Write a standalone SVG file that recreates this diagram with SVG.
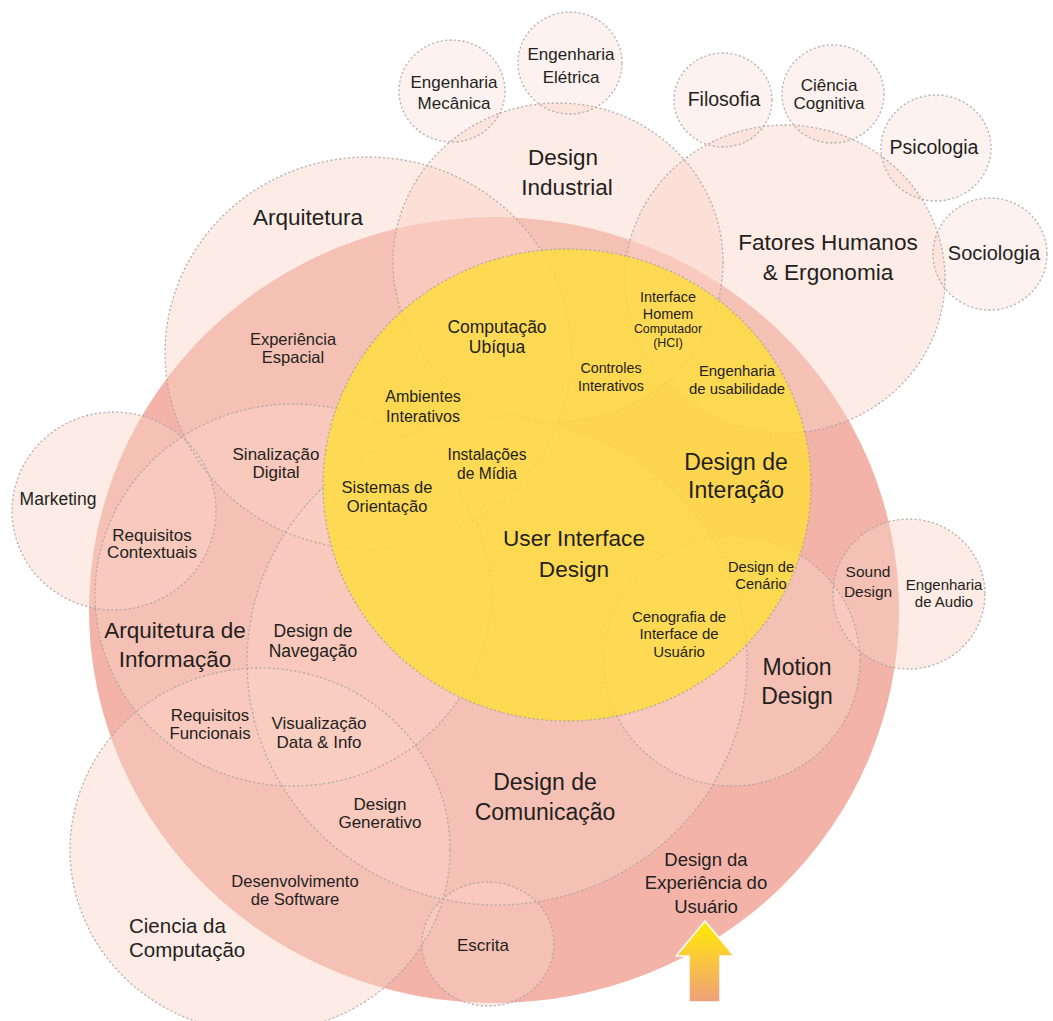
<svg xmlns="http://www.w3.org/2000/svg" xmlns:xlink="http://www.w3.org/1999/xlink" width="1053" height="1021" viewBox="0 0 1053 1021">
  <style>
    .pale { fill: #FAD2C6; fill-opacity: 0.45; }
    .faint { fill: #F8D8CE; fill-opacity: 0.32; }
    .dash { fill: none; stroke: #A9A6A6; stroke-width: 1.3; stroke-dasharray: 2.2 2.2; stroke-opacity: 0.85; }
    text { font-family: "Liberation Sans", Arial, sans-serif; fill: #231F20; text-anchor: middle; }
    text.left { text-anchor: start; }
  </style>
  <defs>
    <!-- discipline areas (slightly wider than tall) -->
    <ellipse id="e-ux" cx="494" cy="610" rx="405" ry="393"/>
    <ellipse id="e-industrial" cx="558" cy="262" rx="165" ry="159"/>
    <ellipse id="e-fatores" cx="785" cy="279" rx="160" ry="154"/>
    <ellipse id="e-arquitetura" cx="368" cy="353" rx="203" ry="196"/>
    <ellipse id="e-marketing" cx="114" cy="511" rx="102" ry="99"/>
    <ellipse id="e-arqinfo" cx="293" cy="595" rx="198" ry="191"/>
    <ellipse id="e-comunicacao" cx="497" cy="662" rx="250" ry="243"/>
    <ellipse id="e-ciencia" cx="260" cy="850" rx="190" ry="182"/>
    <ellipse id="e-motion" cx="732" cy="661" rx="128" ry="125"/>
    <ellipse id="e-sound" cx="909" cy="594" rx="76" ry="75"/>
    <ellipse id="e-escrita" cx="488" cy="944" rx="66" ry="62"/>
    <ellipse id="e-interacao" cx="567" cy="485" rx="244" ry="236"/>
    <ellipse id="e-mecanica" cx="452" cy="91" rx="53" ry="51"/>
    <ellipse id="e-eletrica" cx="570" cy="63" rx="52" ry="51"/>
    <ellipse id="e-filosofia" cx="723" cy="100" rx="49" ry="47"/>
    <ellipse id="e-cognitiva" cx="833" cy="94" rx="51" ry="49"/>
    <ellipse id="e-psicologia" cx="936" cy="148" rx="55" ry="53"/>
    <ellipse id="e-sociologia" cx="990" cy="254" rx="57" ry="56"/>
    <linearGradient id="arrow-grad" x1="0" y1="0" x2="0" y2="1">
      <stop offset="0" stop-color="#FFEC00"/>
      <stop offset="0.45" stop-color="#FBC93A"/>
      <stop offset="1" stop-color="#EE9F7C"/>
    </linearGradient>
  </defs>

  <rect width="1053" height="1021" fill="#FFFFFF"/>

  <!-- base: user experience field -->
  <use xlink:href="#e-ux" fill="#F3B3A8"/>

  <!-- translucent fills of the surrounding disciplines -->
  <g id="area-fills">
    <use xlink:href="#e-mecanica" class="faint"/>
    <use xlink:href="#e-eletrica" class="faint"/>
    <use xlink:href="#e-filosofia" class="faint"/>
    <use xlink:href="#e-cognitiva" class="faint"/>
    <use xlink:href="#e-psicologia" class="faint"/>
    <use xlink:href="#e-sociologia" class="faint"/>
    <use xlink:href="#e-industrial" class="pale"/>
    <use xlink:href="#e-fatores" class="pale"/>
    <use xlink:href="#e-arquitetura" class="pale"/>
    <use xlink:href="#e-marketing" class="pale"/>
    <use xlink:href="#e-arqinfo" class="pale"/>
    <use xlink:href="#e-comunicacao" class="pale"/>
    <use xlink:href="#e-ciencia" class="pale"/>
    <use xlink:href="#e-motion" class="pale"/>
    <use xlink:href="#e-sound" class="pale"/>
    <use xlink:href="#e-escrita" class="pale"/>
  </g>

  <!-- dotted outlines -->
  <g id="area-outlines">
    <use xlink:href="#e-mecanica" class="dash" stroke-opacity="0.35"/>
    <use xlink:href="#e-eletrica" class="dash" stroke-opacity="0.35"/>
    <use xlink:href="#e-filosofia" class="dash" stroke-opacity="0.35"/>
    <use xlink:href="#e-cognitiva" class="dash" stroke-opacity="0.35"/>
    <use xlink:href="#e-psicologia" class="dash" stroke-opacity="0.35"/>
    <use xlink:href="#e-sociologia" class="dash" stroke-opacity="0.35"/>
    <use xlink:href="#e-industrial" class="dash"/>
    <use xlink:href="#e-fatores" class="dash"/>
    <use xlink:href="#e-arquitetura" class="dash"/>
    <use xlink:href="#e-marketing" class="dash"/>
    <use xlink:href="#e-arqinfo" class="dash"/>
    <use xlink:href="#e-comunicacao" class="dash"/>
    <use xlink:href="#e-ciencia" class="dash"/>
    <use xlink:href="#e-motion" class="dash"/>
    <use xlink:href="#e-sound" class="dash"/>
    <use xlink:href="#e-escrita" class="dash"/>
  </g>

  <!-- interaction design core -->
  <g id="interacao-area">
    <use xlink:href="#e-interacao" fill="#FFDD38" fill-opacity="0.8"/>
    <use xlink:href="#e-interacao" class="dash"/>
  </g>

  <!-- arrow pointing at the UX label -->
  <g id="connectors">
    <path d="M705 921 L734 956 L720 956 L720 1002 L689 1002 L689 956 L676 956 Z" fill="url(#arrow-grad)" stroke="#FFFFFF" stroke-width="1.5" stroke-linejoin="round"/>
  </g>

  <!-- labels -->
  <g id="labels">
    <g id="node-eng-mecanica"><text font-size="17" x="454" y="88">Engenharia</text><text font-size="17" x="454" y="109">Mecânica</text></g>
    <g id="node-eng-eletrica"><text font-size="17" x="571" y="60">Engenharia</text><text font-size="17" x="571" y="83">Elétrica</text></g>
    <g id="node-filosofia"><text font-size="19.5" x="724" y="106">Filosofia</text></g>
    <g id="node-ciencia-cognitiva"><text font-size="17" x="829" y="91">Ciência</text><text font-size="17" x="829" y="109">Cognitiva</text></g>
    <g id="node-psicologia"><text font-size="19.5" x="934" y="154">Psicologia</text></g>
    <g id="node-sociologia"><text font-size="20" x="994" y="260">Sociologia</text></g>
    <g id="node-design-industrial"><text font-size="22.5" x="563" y="165">Design</text><text font-size="22.5" x="567" y="195">Industrial</text></g>
    <g id="node-fatores-humanos"><text font-size="22.6" x="828" y="250">Fatores Humanos</text><text font-size="22.6" x="828" y="280">&amp; Ergonomia</text></g>
    <g id="node-arquitetura"><text font-size="22.5" x="308" y="225">Arquitetura</text></g>
    <g id="node-experiencia-espacial"><text font-size="16.5" x="293" y="345">Experiência</text><text font-size="16.5" x="293" y="363">Espacial</text></g>
    <g id="node-computacao-ubiqua"><text font-size="17.5" x="497" y="333">Computação</text><text font-size="17.5" x="497" y="353">Ubíqua</text></g>
    <g id="node-ambientes-interativos"><text font-size="16" x="423" y="402">Ambientes</text><text font-size="16" x="423" y="422">Interativos</text></g>
    <g id="node-instalacoes-midia"><text font-size="15.6" x="487" y="460">Instalações</text><text font-size="15.6" x="487" y="479">de Mídia</text></g>
    <g id="node-sistemas-orientacao"><text font-size="16.5" x="387" y="493">Sistemas de</text><text font-size="16.5" x="387" y="512">Orientação</text></g>
    <g id="node-sinalizacao-digital"><text font-size="17" x="276" y="460">Sinalização</text><text font-size="17" x="276" y="478">Digital</text></g>
    <g id="node-marketing"><text font-size="17.5" x="58" y="505">Marketing</text></g>
    <g id="node-requisitos-contextuais"><text font-size="17" x="152" y="541">Requisitos</text><text font-size="17" x="152" y="558">Contextuais</text></g>
    <g id="node-arquitetura-informacao"><text font-size="22.5" x="175" y="638">Arquitetura de</text><text font-size="22.5" x="175" y="667">Informação</text></g>
    <g id="node-design-navegacao"><text font-size="17.5" x="313" y="637">Design de</text><text font-size="17.5" x="313" y="657">Navegação</text></g>
    <g id="node-requisitos-funcionais"><text font-size="16.8" x="210" y="721">Requisitos</text><text font-size="16.8" x="210" y="739">Funcionais</text></g>
    <g id="node-visualizacao"><text font-size="17" x="319" y="729">Visualização</text><text font-size="17" x="319" y="748">Data &amp; Info</text></g>
    <g id="node-design-generativo"><text font-size="17" x="380" y="810">Design</text><text font-size="17" x="380" y="828">Generativo</text></g>
    <g id="node-desenvolvimento-software"><text font-size="16.6" x="295" y="887">Desenvolvimento</text><text font-size="16.6" x="295" y="905">de Software</text></g>
    <g id="node-ciencia-computacao"><text class="left" font-size="20.5" x="129" y="933">Ciencia da</text><text class="left" font-size="20.5" x="129" y="957">Computação</text></g>
    <g id="node-escrita"><text font-size="17" x="483" y="951">Escrita</text></g>
    <g id="node-design-comunicacao"><text font-size="23" x="545" y="790">Design de</text><text font-size="23" x="545" y="820">Comunicação</text></g>
    <g id="node-design-experiencia-usuario"><text font-size="18.5" x="706" y="866">Design da</text><text font-size="18.5" x="706" y="889">Experiência do</text><text font-size="18.5" x="706" y="913">Usuário</text></g>
    <g id="node-motion-design"><text font-size="23" x="797" y="675">Motion</text><text font-size="23" x="797" y="704">Design</text></g>
    <g id="node-sound-design"><text font-size="15.5" x="868" y="577">Sound</text><text font-size="15.5" x="868" y="597">Design</text></g>
    <g id="node-engenharia-audio"><text font-size="15" x="944" y="590">Engenharia</text><text font-size="15" x="944" y="607">de Audio</text></g>
    <g id="node-design-cenario"><text font-size="14.7" x="761" y="572">Design de</text><text font-size="14.7" x="761" y="589">Cenário</text></g>
    <g id="node-cenografia"><text font-size="15" x="679" y="622">Cenografia de</text><text font-size="15" x="679" y="639">Interface de</text><text font-size="15" x="679" y="657">Usuário</text></g>
    <g id="node-user-interface-design"><text font-size="22.6" x="574" y="546">User Interface</text><text font-size="22.6" x="574" y="577">Design</text></g>
    <g id="node-design-interacao"><text font-size="23" x="736" y="470">Design de</text><text font-size="23" x="736" y="498">Interação</text></g>
    <g id="node-hci"><text font-size="14.4" x="668" y="302">Interface</text><text font-size="14.4" x="668" y="319">Homem</text><text font-size="12.4" x="668" y="333">Computador</text><text font-size="12.4" x="668" y="347">(HCI)</text></g>
    <g id="node-controles-interativos"><text font-size="14.3" x="611" y="373">Controles</text><text font-size="14.3" x="611" y="391">Interativos</text></g>
    <g id="node-engenharia-usabilidade"><text font-size="14.9" x="737" y="376">Engenharia</text><text font-size="14.9" x="737" y="394">de usabilidade</text></g>
  </g>
</svg>
